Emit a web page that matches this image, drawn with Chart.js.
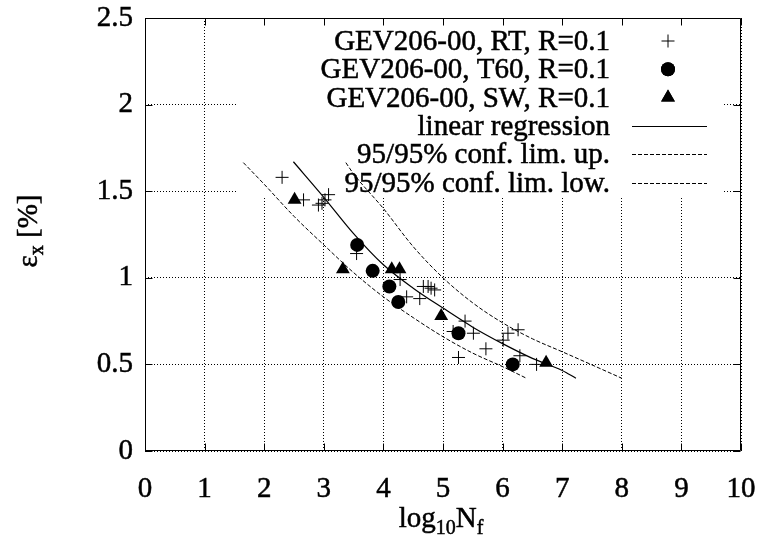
<!DOCTYPE html>
<html><head><meta charset="utf-8">
<script src="https://cdn.jsdelivr.net/npm/chart.js@4/dist/chart.umd.min.js"></script>
<style>html,body{margin:0;padding:0;background:#fff;overflow:hidden}</style>
</head><body>
<canvas id="c" width="761" height="545"></canvas>
<script>
const xTicks = [0,1,2,3,4,5,6,7,8,9,10];
const yTicks = [0,0.5,1,1.5,2,2.5];

const rtX = [2.30,2.66,2.91,2.97,3.02,3.08,3.55,4.28,4.39,4.61,4.67,4.75,4.80,4.86,5.17,5.37,5.51,5.72,5.26,6.01,6.09,6.26,6.29,6.57];
const rtY = [1.58,1.45,1.42,1.43,1.45,1.48,1.14,0.99,0.89,0.88,0.95,0.95,0.94,0.93,0.69,0.75,0.68,0.59,0.54,0.64,0.68,0.70,0.55,0.50];
const t60X = [3.56,3.82,4.10,4.25,5.26,6.17];
const t60Y = [1.19,1.04,0.95,0.86,0.68,0.50];
const swX = [2.51,3.32,4.14,4.27,4.97,6.73];
const swY = [1.45,1.05,1.05,1.05,0.78,0.51];

const regX = [2.49,3.0,3.5,4.0,4.5,5.0,5.5,6.0,6.5,7.0,7.23];
const regY = [1.67,1.465,1.255,1.075,0.94,0.825,0.715,0.62,0.535,0.465,0.42];
const upX = [3.37,3.5,4.0,4.5,5.0,5.5,6.0,6.5,7.0,7.5,8.0];
const upY = [1.665,1.60,1.40,1.18,1.0,0.855,0.74,0.648,0.573,0.497,0.42];
const lowX = [1.65,2.0,2.5,3.0,3.5,4.0,4.5,5.0,5.5,6.0,6.4];
const lowY = [1.665,1.54,1.355,1.19,1.03,0.89,0.77,0.66,0.565,0.487,0.42];

const labels = ["GEV206-00, RT, R=0.1","GEV206-00, T60, R=0.1","GEV206-00, SW, R=0.1",
  "linear regression","95/95% conf. lim. up.","95/95% conf. lim. low."];

const pts = (xs, ys) => xs.map((x,i)=>({x:x, y:ys[i]}));
const FONT = "'Liberation Serif', 'Times New Roman', serif";
const FS = 29, FSS = 20, TSW = 0.5;

const datasets = [
  {label:labels[0], data:pts(rtX,rtY), pointStyle:'cross', pointRadius:6.5, borderColor:'#000', backgroundColor:'#000', pointBorderWidth:1, showLine:false},
  {label:labels[1], data:pts(t60X,t60Y), pointStyle:'circle', pointRadius:7, borderColor:'#000', backgroundColor:'#000', pointBorderWidth:0, showLine:false},
  {label:labels[2], data:pts(swX,swY), pointStyle:'triangle', pointRadius:8, borderColor:'#000', backgroundColor:'#000', pointBorderWidth:0, showLine:false},
  {label:labels[3], data:pts(regX,regY), showLine:true, pointRadius:0, borderColor:'#000', borderWidth:1.2, cubicInterpolationMode:'monotone'},
  {label:labels[4], data:pts(upX,upY), showLine:true, pointRadius:0, borderColor:'#000', borderWidth:1, borderDash:[4,2], cubicInterpolationMode:'monotone'},
  {label:labels[5], data:pts(lowX,lowY), showLine:true, pointRadius:0, borderColor:'#000', borderWidth:1, borderDash:[4,2], cubicInterpolationMode:'monotone'}
];

const keyBox = {left:237, right:722, bottom:196};
const keyTextRight = 610, keySymX = 668, keyLineL = 632, keyLineR = 707;
const keyBase0 = 50, keyStep = 28.3;

function txt(ctx, s, x, y){
  ctx.fillText(s, x, y);
  ctx.lineWidth = TSW; ctx.strokeStyle = '#000';
  ctx.strokeText(s, x, y);
}

const keyPlugin = {
  id:'keyPlugin',
  beforeDatasetsDraw(chart){
    const ctx = chart.ctx, ca = chart.chartArea;
    ctx.save();
    ctx.fillStyle = '#fff';
    ctx.fillRect(keyBox.left, ca.top+1, keyBox.right-keyBox.left, keyBox.bottom-ca.top-1);
    ctx.fillStyle = '#000';
    ctx.font = FS + 'px ' + FONT;
    ctx.textAlign = 'right';
    ctx.textBaseline = 'alphabetic';
    chart.data.datasets.forEach((ds,i)=>{
      const base = keyBase0 + i*keyStep;
      txt(ctx, ds.label, keyTextRight, base);
      const cy = base - 9;
      if (ds.showLine) {
        ctx.beginPath();
        ctx.lineWidth = ds.borderWidth;
        ctx.strokeStyle = '#000';
        ctx.setLineDash(ds.borderDash || []);
        ctx.moveTo(keyLineL, Math.round(cy)+0.5);
        ctx.lineTo(keyLineR, Math.round(cy)+0.5);
        ctx.stroke();
        ctx.setLineDash([]);
      } else {
        ctx.fillStyle = '#000'; ctx.strokeStyle = '#000';
        ctx.lineWidth = ds.pointBorderWidth || 1;
        Chart.helpers.drawPoint(ctx, {pointStyle:ds.pointStyle, radius:ds.pointRadius, rotation:0, borderWidth:ds.pointBorderWidth}, keySymX, cy);
        if (ds.pointStyle !== 'cross') ctx.fill();
      }
    });
    ctx.restore();
  },
  afterDatasetsDraw(chart){
    const ctx = chart.ctx, ca = chart.chartArea;
    const sx = chart.scales.x, sy = chart.scales.y;
    ctx.save();
    ctx.strokeStyle = '#000';
    ctx.lineWidth = 1;
    ctx.setLineDash([]);
    const L = Math.round(ca.left)+0.5, R = Math.round(ca.right)-0.5, T = Math.round(ca.top)+0.5, B = Math.round(ca.bottom)-0.5;
    ctx.beginPath();
    ctx.rect(L, T, R-L, B-T);
    const tl = 7;
    xTicks.forEach(v=>{
      const p = Math.round(sx.getPixelForValue(v))+0.5;
      ctx.moveTo(p,B); ctx.lineTo(p,B-tl);
      ctx.moveTo(p,T); ctx.lineTo(p,T+tl);
    });
    yTicks.forEach(v=>{
      const p = Math.round(sy.getPixelForValue(v))+0.5;
      ctx.moveTo(L,p); ctx.lineTo(L+tl,p);
      ctx.moveTo(R,p); ctx.lineTo(R-tl,p);
    });
    ctx.stroke();
    ctx.restore();
  },
  afterDraw(chart){
    const ctx = chart.ctx;
    ctx.save();
    ctx.fillStyle = '#000';
    ctx.textBaseline = 'alphabetic';
    ctx.textAlign = 'left';
    const big = FS + 'px ' + FONT, small = FSS + 'px ' + FONT;
    const parts = [['log',big,0],['10',small,7],['N',big,0],['f',small,7]];
    let w = 0;
    parts.forEach(p=>{ctx.font=p[1]; w += ctx.measureText(p[0]).width;});
    let x = 441 - w/2;
    const by = 527;
    parts.forEach(p=>{ctx.font=p[1]; txt(ctx, p[0], x, by+p[2]); x += ctx.measureText(p[0]).width;});
    ctx.translate(37, 231);
    ctx.rotate(-Math.PI/2);
    const yparts = [['ε',big,0],['x',small,6],[' [%]',big,0]];
    w = 0;
    yparts.forEach(p=>{ctx.font=p[1]; w += ctx.measureText(p[0]).width;});
    x = -w/2;
    yparts.forEach(p=>{ctx.font=p[1]; txt(ctx, p[0], x, p[2]); x += ctx.measureText(p[0]).width;});
    ctx.restore();
  }
};

new Chart(document.getElementById('c'), {
  type:'scatter',
  data:{datasets:datasets},
  options:{
    responsive:false,
    animation:false,
    devicePixelRatio:1,
    layout:{padding:{left:0,top:18,right:20,bottom:0}},
    plugins:{legend:{display:false}, tooltip:{enabled:false}},
    scales:{
      x:{
        type:'linear', min:0, max:10,
        afterFit(s){ s.height = 94; s.paddingLeft = 0; s.paddingRight = 0; },
        afterBuildTicks(s){ s.ticks = xTicks.map(v=>({value:v})); },
        ticks:{stepSize:1, padding:21, color:'#000', font:{family:FONT, size:FS}, maxRotation:0, callback:v=>String(v), textStrokeColor:'#000', textStrokeWidth:TSW},
        grid:{color:'#000', lineWidth:1, drawTicks:false},
        border:{display:false, dash:[1,2]}
      },
      y:{
        type:'linear', min:0, max:2.5,
        afterFit(s){ s.width = 145; s.paddingTop = 0; s.paddingBottom = 0; },
        afterBuildTicks(s){ s.ticks = yTicks.map(v=>({value:v})); },
        ticks:{stepSize:0.5, padding:12, color:'#000', font:{family:FONT, size:FS}, callback:v=>String(v), textStrokeColor:'#000', textStrokeWidth:TSW},
        grid:{color:'#000', lineWidth:1, drawTicks:false},
        border:{display:false, dash:[1,2]}
      }
    }
  },
  plugins:[keyPlugin]
});
</script>
</body></html>
